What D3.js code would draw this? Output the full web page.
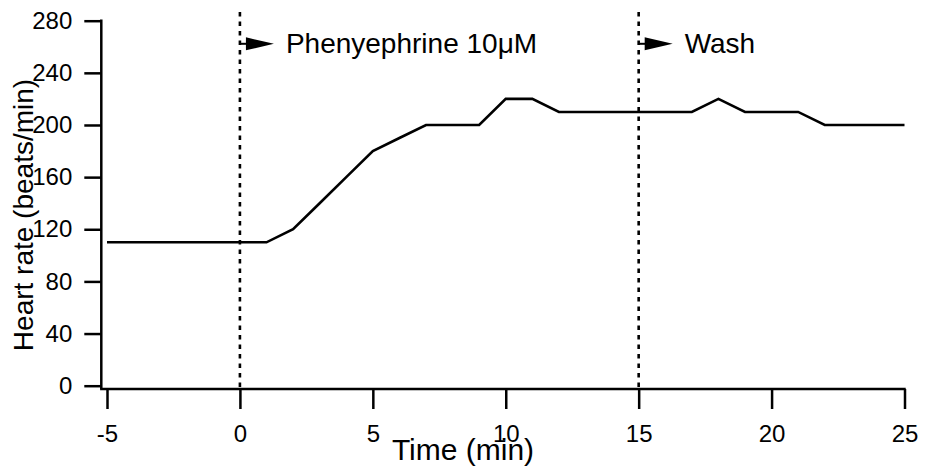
<!DOCTYPE html>
<html>
<head>
<meta charset="utf-8">
<script src="https://cdn.jsdelivr.net/npm/d3@7"></script>
<style>
  body { margin: 0; background: #fff; }
  svg { font-family: "Liberation Sans", Arial, sans-serif; }
</style>
</head>
<body>
<div id="chart"></div>
<script>
// time in minutes, heart rate in beats/min
const times = [-5, -4, -3, -2, -1, 0, 1, 2, 3, 4, 5, 6, 7, 8, 9, 10, 11, 12, 13, 14, 15, 16, 17, 18, 19, 20, 21, 22, 23, 24, 25];
const heartRate = [110, 110, 110, 110, 110, 110, 110, 120, 140, 160, 180, 190, 200, 200, 200, 220, 220, 210, 210, 210, 210, 210, 210, 220, 210, 210, 210, 200, 200, 200, 200];
const xTicks = [-5, 0, 5, 10, 15, 20, 25];
const yTicks = [0, 40, 80, 120, 160, 200, 240, 280];
const events = [
    {time: 0, label: "Phenyephrine 10μM"},
    {time: 15, label: "Wash"}
];

const W = 925, H = 472;

const x = d3.scaleLinear().domain([-5, 25]).range([107, 904.5]);
const y = d3.scaleLinear().domain([0, 280]).range([385.7, 20.7]);

// axes sit a little outside the data area (Igor style)
const axisX = x(-5) - 5.7;
const axisY = y(0) + 3.3;

const svg = d3.select("#chart")
    .append("svg")
    .attr("width", W)
    .attr("height", H);

// y axis
const gy = svg.append("g")
    .attr("transform", `translate(${axisX},0)`)
    .call(d3.axisLeft(y).tickValues(yTicks).tickFormat(d => String(d))
        .tickSize(17).tickPadding(12).tickSizeOuter(0));
gy.select(".domain").remove();
gy.selectAll(".tick line").attr("stroke", "#000").attr("stroke-width", 2.5);
gy.selectAll(".tick text").attr("font-size", 24).attr("fill", "#000");

// x axis
const gx = svg.append("g")
    .attr("transform", `translate(0,${axisY})`)
    .call(d3.axisBottom(x).tickValues(xTicks).tickFormat(d => String(d))
        .tickSize(20).tickPadding(16).tickSizeOuter(0));
gx.select(".domain").remove();
gx.selectAll(".tick line").attr("stroke", "#000").attr("stroke-width", 2.5);
gx.selectAll(".tick text").attr("font-size", 24).attr("fill", "#000");

// axis lines
svg.append("line")
    .attr("x1", axisX).attr("x2", axisX)
    .attr("y1", y(280) - 1.2).attr("y2", axisY)
    .attr("stroke", "#000").attr("stroke-width", 2.5);
svg.append("line")
    .attr("x1", axisX - 1.2).attr("x2", x(25) + 1.2)
    .attr("y1", axisY).attr("y2", axisY)
    .attr("stroke", "#000").attr("stroke-width", 2.5);

// event markers
events.forEach(ev => {
    const ex = x(ev.time);
    svg.append("line")
        .attr("x1", ex).attr("x2", ex)
        .attr("y1", 12).attr("y2", axisY)
        .attr("stroke", "#000")
        .attr("stroke-width", 2.6)
        .attr("stroke-dasharray", "4.5,5");
    svg.append("line")
        .attr("x1", ex).attr("x2", ex + 8)
        .attr("y1", 43.8).attr("y2", 43.8)
        .attr("stroke", "#000").attr("stroke-width", 2);
    svg.append("path")
        .attr("d", `M${ex + 6},37.3 L${ex + 34},43.8 L${ex + 6},50.3 Z`)
        .attr("fill", "#000");
    svg.append("text")
        .attr("x", ex + 46)
        .attr("y", 53)
        .attr("font-size", 28)
        .attr("fill", "#000")
        .text(ev.label);
});

// data line
const line = d3.line()
    .x((d, i) => x(times[i]))
    .y(d => y(d));

svg.append("path")
    .datum(heartRate)
    .attr("fill", "none")
    .attr("stroke", "#000")
    .attr("stroke-width", 2.6)
    .attr("stroke-linejoin", "miter")
    .attr("d", line);

// axis titles
svg.append("text")
    .attr("x", 463)
    .attr("y", 460)
    .attr("text-anchor", "middle")
    .attr("font-size", 30)
    .attr("fill", "#000")
    .text("Time (min)");

svg.append("text")
    .attr("transform", `translate(33,${215}) rotate(-90)`)
    .attr("text-anchor", "middle")
    .attr("font-size", 28)
    .attr("fill", "#000")
    .text("Heart rate (beats/min)");
</script>
</body>
</html>
